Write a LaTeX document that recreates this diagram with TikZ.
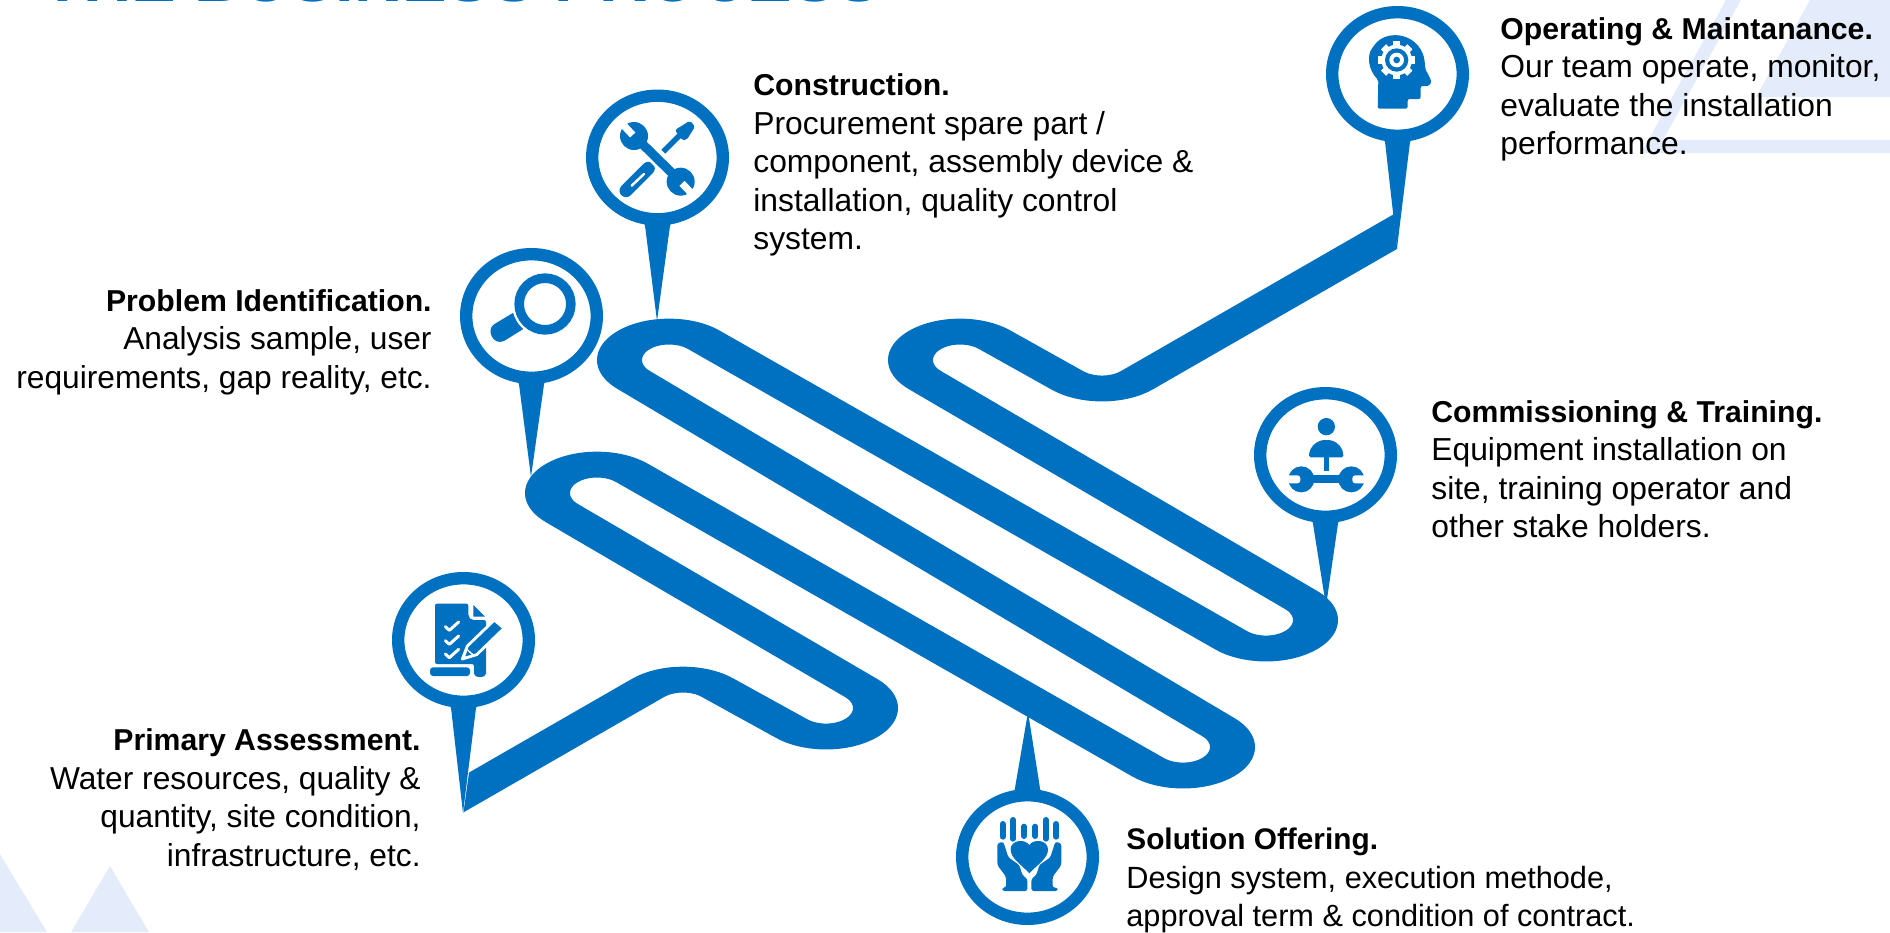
\documentclass[tikz,border=0pt]{standalone}
\usepackage{fontspec}
\setmainfont{Liberation Sans}
\usetikzlibrary{calc,shapes.geometric}
\definecolor{brand}{RGB}{0,112,192}
\definecolor{pale}{RGB}{228,236,251}
\newcommand{\hd}[1]{{\fontsize{15.1}{19.25}\selectfont\bfseries #1}}
\newcommand{\hds}[1]{{\fontsize{14.9}{19.25}\selectfont\bfseries #1}}
\tikzset{
  pinring/.style={ellipse,draw=brand,fill=white,line width=6.2pt,minimum width=65.3pt,minimum height=61.8pt,inner sep=0pt},
  pipe/.style={draw=brand,line width=22.5pt,line join=round},
  bodyr/.style={anchor=base east,align=right,inner sep=0pt,font=\fontsize{15.85}{19.25}\selectfont},
  bodyl/.style={anchor=base west,align=left,inner sep=0pt,font=\fontsize{15.9}{19.25}\selectfont},
  bodys/.style={anchor=base west,align=left,inner sep=0pt,font=\fontsize{15.35}{19.25}\selectfont},
  iconat/.style 2 args={xshift=#1*0.5pt,yshift=-#2*0.5pt,x=0.16667pt,y=-0.16667pt},
}
\newcommand{\tailof}[4]{% node, anchor, tip, sign (1 down, -1 up)
  \fill[brand] ($(#1.#2)+(-17,{-5*#4})$) .. controls ($(#1.#2)+(-13,{-3*#4})$) and ($(#1.#2)+(-12.5,{-1*#4})$) .. ($(#1.#2)+(-12,{4*#4})$) -- (#3)
    -- ($(#1.#2)+(12,{4*#4})$) .. controls ($(#1.#2)+(12.5,{-1*#4})$) and ($(#1.#2)+(13,{-3*#4})$) .. ($(#1.#2)+(17,{-5*#4})$) -- cycle;}
\begin{document}
\begin{tikzpicture}[x=0.5pt,y=-0.5pt]
\useasboundingbox (0,0) rectangle (1890,932);
% pale background shapes
\fill[pale] (0,854)--(47,932)--(0,932)--cycle;
\fill[pale] (110,866)--(149,932)--(71,932)--cycle;
\fill[pale] (1810,0)--(1890,0)--(1890,97)--(1756,97)--cycle;
\fill[pale] (1726,0)--(1741,0)--(1663,140)--(1890,140)--(1890,153)--(1641,153)--cycle;
% title, almost wholly above the page
\node[anchor=base west,inner sep=0pt,text=brand,font=\fontsize{33.4}{36}\selectfont\bfseries] (title) at (42,1.5) {THE BUSINESS PROCESS};
% ribbon
\begin{scope}
\clip (460.7,832)--(469,773)--(470,200)--(1392,200)--(1398,256)--(1400,932)--(460.7,932)--cycle;
\begin{scope}[transform canvas={yscale=0.575},x=0.5pt,y=0.5pt]
\def\RR{49.5}
\coordinate (G) at (683,{-708/0.575});
\coordinate (F) at (826,{-708/0.575});
\coordinate (A) at (597,{-493/0.575});
\coordinate (E) at (1183,{-747/0.575});
\coordinate (B) at (669,{-360/0.575});
\coordinate (D) at (1266,{-620/0.575});
\coordinate (C) at (960,{-360/0.575});
\coordinate (H) at (1102,{-360/0.575});
\draw[pipe] ($(G)+(135:\RR)+(225:400)$) -- ($(G)+(135:\RR)$) arc[start angle=135,end angle=45,radius=\RR]
 -- ($(F)+(225:\RR)$) arc[start angle=225,end angle=405,radius=\RR]
 -- ($(A)+(225:\RR)$) arc[start angle=225,end angle=45,radius=\RR]
 -- ($(E)+(225:\RR)$) arc[start angle=225,end angle=405,radius=\RR]
 -- ($(B)+(225:\RR)$) arc[start angle=225,end angle=45,radius=\RR]
 -- ($(D)+(225:\RR)$) arc[start angle=225,end angle=405,radius=\RR]
 -- ($(C)+(225:\RR)$) arc[start angle=225,end angle=45,radius=\RR]
 -- ($(H)+(225:\RR)$) arc[start angle=225,end angle=315,radius=\RR]
 -- ($(H)+(315:\RR)+(45:500)$);
\end{scope}
\end{scope}
% pins
\node[pinring] (pPrimary) at (463.5,640) {};
\node[pinring] (pProblem) at (531.5,316) {};
\node[pinring] (pConstr) at (657.5,157.5) {};
\node[pinring] (pSolution) at (1027.5,857) {};
\node[pinring] (pComm) at (1325.5,455) {};
\node[pinring] (pOper) at (1397.5,74) {};
\coordinate (tPrimary) at (463,813);
\coordinate (tProblem) at (531,477);
\coordinate (tConstr) at (657,321);
\coordinate (tSolution) at (1028,712);
\coordinate (tComm) at (1326,606);
\coordinate (tOper) at (1397,248);
\tailof{pPrimary}{south}{tPrimary}{1}
\tailof{pProblem}{south}{tProblem}{1}
\tailof{pConstr}{south}{tConstr}{1}
\tailof{pSolution}{north}{tSolution}{-1}
\tailof{pComm}{south}{tComm}{1}
\tailof{pOper}{south}{tOper}{1}
% icon: document and pencil
\begin{scope}[iconat={380}{560}]
\fill[brand,rounded corners=1pt] (165,131)--(265,131)--(265,170)--(275,180)--(318,180)--(318,335)
  .. controls (318,355) and (282,355) .. (282,335)--(282,312)--(165,312)--cycle;
\fill[brand] (280,135)--(315,170)--(280,170)--cycle;
\fill[brand,rounded corners=1.5pt] (150,322)--(270,322)--(270,348)--(150,348)--cycle;
\foreach \yy in {200,242,282}
  \draw[white,line width=1.5pt,line cap=round,line join=round] (196,\yy)--(208,\yy+11)--(236,\yy-14);
\draw[white,line width=1.4pt,fill=brand,line join=round] (247,297)--(262,258)--(343,180)--(372,205)--(290,284)--cycle;
\fill[white] (258,263)--(285,287)--(247,297)--cycle;
\fill[brand] (262,272)--(274,284)--(256,289)--cycle;
\end{scope}
% icon: magnifier
\begin{scope}[iconat={450}{240}]
\fill[brand] (200,212)--(132,253) .. controls (108,268) and (128,318) .. (162,303)--(228,262)--cycle;
\fill[white] (285,192) circle[radius=99];
\draw[brand,line width=4.8pt] (285,192) circle[radius=77.5];
\end{scope}
% icon: wrench and screwdriver
\begin{scope}[iconat={580}{80}]
\draw[brand,line width=6.5pt,line cap=round] (138,332)--(205,265);
\draw[white,line width=1.2pt,line cap=round] (155,317)--(192,282);
\draw[brand,line width=2.8pt] (250,215)--(300,165);
\fill[brand,rounded corners=1pt] (285,150)--(330,122)--(345,140)--(320,180)--(305,180)--cycle;
\draw[white,line width=7.5pt] (170,175)--(295,298);
\draw[brand,line width=4.6pt] (170,175)--(295,298);
\fill[brand] (162,168) circle[radius=42];
\fill[brand] (302,305) circle[radius=42];
\draw[white,line width=3.6pt] (158,165)--(118,122);
\draw[white,line width=3.6pt] (306,310)--(346,352);
\end{scope}
% icon: hands and heart
\begin{scope}[iconat={940}{780}]
\foreach \xx/\ta/\tb in {188/132/170,219/120/176,252/140/168,286/140/168,318/120/176,349/132/170}
  \draw[brand,line width=3pt,line cap=round] (\xx,\ta)--(\xx,\tb);
\fill[brand] (268,280) .. controls (240,250) and (212,235) .. (212,208)
  .. controls (212,180) and (255,175) .. (268,195) .. controls (281,175) and (324,180) .. (324,208)
  .. controls (324,235) and (296,250) .. (268,280)--cycle;
\fill[brand,rounded corners=1.2pt] (172,190)--(190,185)--(205,232)--(238,255)--(247,285)--(262,297)--(262,333)--(187,333)--(187,323)--(198,323)--(198,290)--(172,255)--cycle;
\fill[brand,rounded corners=1.2pt] (364,190)--(346,185)--(331,232)--(298,255)--(289,285)--(274,297)--(274,333)--(353,333)--(353,323)--(338,323)--(338,290)--(364,255)--cycle;
\end{scope}
% icon: person and wrench
\begin{scope}[iconat={1240}{380}]
\fill[brand] (259,140) circle[radius=26];
\fill[brand,rounded corners=0.8pt] (207,232) .. controls (207,200) and (232,180) .. (259,180) .. controls (286,180) and (310,200) .. (310,232)--cycle;
\fill[brand] (252,232) rectangle (266,272);
\fill[brand] (200,285) rectangle (320,310);
\fill[brand] (184,298) circle[radius=39];
\fill[brand] (334,298) circle[radius=39];
\fill[white,rounded corners=1.5pt] (135,286) rectangle (181,310);
\fill[white,rounded corners=1.5pt] (337,286) rectangle (383,310);
\end{scope}
% icon: head with gear
\begin{scope}[iconat={1310}{0}]
\fill[brand,rounded corners=1pt] (205,240) .. controls (175,210) and (170,165) .. (190,140) .. controls (225,90) and (310,95) .. (340,165)
  .. controls (345,185) and (345,205) .. (350,215) -- (362,238) .. controls (365,250) and (355,258) .. (345,258) -- (332,258) -- (332,297) -- (293,297) -- (293,326) -- (203,326) -- cycle;
\foreach \a in {0,45,...,315}
  \fill[white,rotate around={\a:(260,180)}] (249,124) rectangle (271,150);
\fill[white] (260,180) circle[radius=46];
\fill[brand] (260,180) circle[radius=35];
\fill[white] (260,180) circle[radius=22];
\fill[brand] (260,180) circle[radius=10];
\end{scope}
% labels
\node[bodyl] (lConstr) at (753,249.5) {\hd{Construction.}\\Procurement spare part /\\component, assembly device \&\\installation, quality control\\system.};
\node[bodyr] (lProblem) at (432,388) {\hd{Problem Identification.}\\Analysis sample, user\\requirements, gap reality, etc.};
\node[bodyr] (lPrimary) at (421,866) {\hd{Primary Assessment.}\\Water resources, quality \&\\quantity, site condition,\\infrastructure, etc.};
\node[bodys] (lSolution) at (1126,926.5) {\hds{Solution Offering.}\\Design system, execution methode,\\approval term \& condition of contract.};
\node[bodyl] (lComm) at (1431,537.5) {\hd{Commissioning \& Training.}\\Equipment installation on\\site, training operator and\\other stake holders.};
\node[bodyl] (lOper) at (1500,154.5) {\hd{Operating \& Maintanance.}\\Our team operate, monitor,\\evaluate the installation\\performance.};
\end{tikzpicture}
\end{document}
